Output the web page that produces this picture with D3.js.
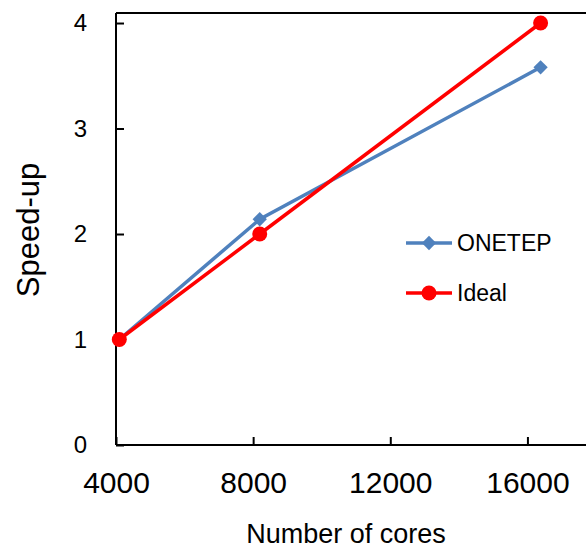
<!DOCTYPE html>
<html>
<head>
<meta charset="utf-8">
<script src="https://cdn.jsdelivr.net/npm/d3@7"></script>
<style>
  body { margin: 0; background: #fff; }
  text { font-family: "Liberation Sans", Arial, sans-serif; fill: #000; }
</style>
</head>
<body>
<svg width="586" height="549"></svg>
<script>
// data
var cores = [4096, 8192, 16384]
var onetep = [1, 2.14, 3.58]
var ideal = [1, 2, 4]
var xTicks = [4000, 8000, 12000, 16000]
var yTicks = [0, 1, 2, 3, 4]

var svg = d3.select('svg')

var plotLeft = 116, plotRight = 596, plotTop = 13, plotBottom = 445

var x = d3.scaleLinear().domain([4000, 18000]).range([plotLeft, plotRight])
var y = d3.scaleLinear().domain([0, 4.095]).range([plotBottom, plotTop])

// frame (top border)
svg.append('line')
    .attr('x1', plotLeft).attr('x2', plotRight)
    .attr('y1', plotTop).attr('y2', plotTop)
    .attr('stroke', '#000').attr('stroke-width', 2)

// y axis, ticks point inward
var yAxis = svg.append('g')
    .attr('transform', 'translate(' + plotLeft + ',0)')
    .call(d3.axisLeft(y).tickValues(yTicks).tickSize(-8).tickPadding(29).tickFormat(d3.format('d')))
yAxis.select('.domain').attr('stroke', '#000').attr('stroke-width', 2)
    .attr('d', 'M0,' + plotTop + 'V' + plotBottom)
yAxis.selectAll('.tick line').attr('stroke-width', 2)
yAxis.selectAll('text').style('font-size', '24px')

// x axis
var xAxis = svg.append('g')
    .attr('transform', 'translate(0,' + plotBottom + ')')
    .call(d3.axisBottom(x).tickValues(xTicks).tickSize(-8).tickPadding(27).tickFormat(d3.format('d')))
xAxis.select('.domain').attr('stroke', '#000').attr('stroke-width', 2)
    .attr('d', 'M' + plotLeft + ',0H' + plotRight)
xAxis.selectAll('.tick line').attr('stroke-width', 2)
xAxis.selectAll('text').style('font-size', '30px')

// axis titles
svg.append('text')
    .attr('x', 346).attr('y', 543)
    .attr('text-anchor', 'middle')
    .style('font-size', '27px')
    .text('Number of cores')

svg.append('text')
    .attr('transform', 'translate(39,230) rotate(-90)')
    .attr('text-anchor', 'middle')
    .style('font-size', '31px')
    .text('Speed-up')

var line = d3.line()
    .x(function(d) { return x(d[0]) })
    .y(function(d) { return y(d[1]) })

var blue = '#4F81BD', red = '#FF0000'
var diamond = d3.symbol().type(d3.symbolDiamond2).size(130)

// ONETEP series
var onetepPts = cores.map(function(c, i) { return [c, onetep[i]] })
svg.append('path')
    .attr('d', line(onetepPts))
    .attr('fill', 'none').attr('stroke', blue).attr('stroke-width', 3.5)
svg.selectAll('.onetep')
    .data(onetepPts)
    .enter()
    .append('path')
    .attr('class', 'onetep')
    .attr('d', diamond)
    .attr('transform', function(d) { return 'translate(' + x(d[0]) + ',' + y(d[1]) + ')' })
    .attr('fill', blue)

// Ideal series
var idealPts = cores.map(function(c, i) { return [c, ideal[i]] })
svg.append('path')
    .attr('d', line(idealPts))
    .attr('fill', 'none').attr('stroke', red).attr('stroke-width', 3.5)
svg.selectAll('.ideal')
    .data(idealPts)
    .enter()
    .append('circle')
    .attr('class', 'ideal')
    .attr('cx', function(d) { return x(d[0]) })
    .attr('cy', function(d) { return y(d[1]) })
    .attr('r', 7.5)
    .attr('fill', red)

// legend
var legend = [
    { name: 'ONETEP', color: blue, mark: 'diamond', y: 243 },
    { name: 'Ideal', color: red, mark: 'circle', y: 293 }
]
legend.forEach(function(l) {
    var g = svg.append('g')
    g.append('line')
        .attr('x1', 406).attr('x2', 452)
        .attr('y1', l.y).attr('y2', l.y)
        .attr('stroke', l.color).attr('stroke-width', 3.5)
    if (l.mark == 'diamond') {
        g.append('path').attr('d', diamond)
            .attr('transform', 'translate(429,' + l.y + ')')
            .attr('fill', l.color)
    } else {
        g.append('circle').attr('cx', 429).attr('cy', l.y).attr('r', 7.5).attr('fill', l.color)
    }
    g.append('text')
        .attr('x', 457).attr('y', l.y + 8)
        .style('font-size', '23px')
        .text(l.name)
})
</script>
</body>
</html>
